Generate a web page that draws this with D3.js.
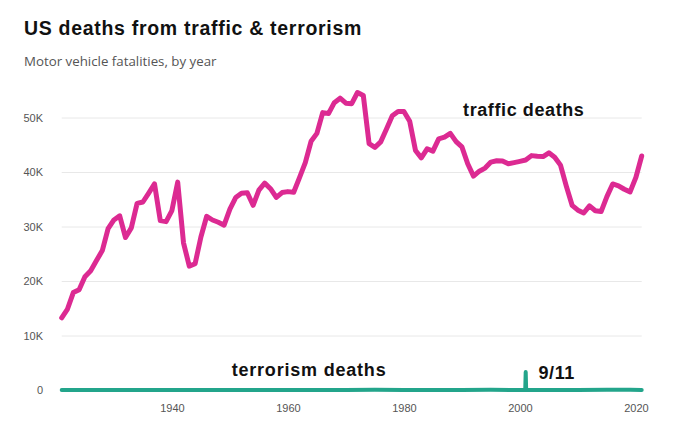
<!DOCTYPE html>
<html>
<head>
<meta charset="utf-8">
<script src="https://cdn.jsdelivr.net/npm/d3@7"></script>
<style>
  html, body { margin: 0; padding: 0; background: #fff; }
  svg { display: block; }
</style>
</head>
<body>
<div id="chart"></div>
<script>
// ---- data ----
const years = d3.range(1921, 2022);
const trafficDeaths = [
  13253, 14859, 17870, 18400, 20771, 21894, 23765, 25580, 29592,          // 1921-1929
  31204, 31963, 27979, 29746, 34240, 34494, 36126, 37819, 31083, 30895,   // 1930s
  32914, 38142, 27007, 22727, 23165, 28076, 31874, 31193, 30775, 30246,   // 1940s
  33186, 35309, 36088, 36190, 33890, 36688, 37965, 36932, 35331, 36223,   // 1950s
  36399, 36285, 38980, 41723, 45645, 47089, 50894, 50724, 52725, 53543,   // 1960s
  52627, 52542, 54589, 54052, 45196, 44525, 45523, 47878, 50331, 51093,   // 1970s
  51091, 49301, 43945, 42589, 44257, 43825, 46087, 46390, 47087, 45582,   // 1980s
  44599, 41508, 39250, 40150, 40716, 41817, 42065, 42013, 41501, 41717,   // 1990s
  41945, 42196, 43005, 42884, 42836, 43510, 42708, 41259, 37423, 33883,   // 2000s
  32999, 32479, 33782, 32893, 32744, 35484, 37806, 37473, 36835, 36355,   // 2010s
  39007, 42939                                                            // 2020-2021
];
// terrorism deaths: yearly, with the September 2001 attacks recorded at finer (monthly) resolution
const terrorismDates = [
  1921, 1930, 1940, 1950, 1960, 1970, 1975, 1980, 1985, 1990, 1995, 2000,
  2000.92, 2001, 2001.08,
  2002, 2005, 2010, 2015, 2016, 2019, 2021
];
const terrorismDeaths = [
  0, 0, 0, 0, 0, 15, 25, 20, 5, 4, 40, 1,
  0, 3300, 0,
  5, 0, 3, 40, 50, 45, 10
];
const yTicks = [0, 10000, 20000, 30000, 40000, 50000];
const xTicks = [1940, 1960, 1980, 2000, 2020];
const titleText = "US deaths from traffic & terrorism";
const subtitleText = "Motor vehicle fatalities, by year";
const seriesLabels = [
  { text: "traffic deaths", year: 1990.2, value: 50300, spacing: 0.6 },
  { text: "terrorism deaths", year: 1950.3, value: 2550, spacing: 0.8 },
  { text: "9/11", year: 2003.2, value: 2000, spacing: 0.6 }
];

// ---- layout ----
const W = 680, H = 438;
const svg = d3.select("#chart").append("svg")
  .attr("width", W).attr("height", H);

const x = d3.scaleLinear().domain([1921, 2021]).range([61.7, 641.7]);
const y = d3.scaleLinear().domain([0, 50000]).range([390, 117.5]);

// title & subtitle
svg.append("text")
  .attr("x", 24).attr("y", 35)
  .attr("font-family", "'Liberation Sans', Arial, sans-serif")
  .attr("font-weight", "bold")
  .attr("font-size", 19.5)
  .attr("letter-spacing", 0.7)
  .attr("fill", "#111")
  .text(titleText);

svg.append("text")
  .attr("x", 24).attr("y", 66)
  .attr("font-family", "'Open Sans', 'Noto Sans', sans-serif")
  .attr("font-size", 13.3)
  .attr("fill", "#555")
  .text(subtitleText);

// y axis (gridlines + labels)
const yAxis = d3.axisLeft(y)
  .tickValues(yTicks)
  .tickSize(-(x.range()[1] - x.range()[0]))
  .tickPadding(18.7)
  .tickFormat(d => d === 0 ? "0" : (d / 1000) + "K");

const gy = svg.append("g")
  .attr("transform", `translate(${x.range()[0]},0)`)
  .call(yAxis);
gy.select(".domain").remove();
gy.selectAll(".tick line").attr("stroke", "#e8e8e8").attr("stroke-width", 1);
gy.selectAll(".tick text")
  .attr("font-family", "'Liberation Sans', Arial, sans-serif")
  .attr("font-size", 11)
  .attr("fill", "#555");

// x axis labels
const xAxis = d3.axisBottom(x)
  .tickValues(xTicks)
  .tickSize(0)
  .tickPadding(14)
  .tickFormat(d3.format("d"));
const gx = svg.append("g")
  .attr("transform", `translate(0,${y(0)})`)
  .call(xAxis);
gx.select(".domain").remove();
gx.selectAll(".tick text")
  .attr("font-family", "'Liberation Sans', Arial, sans-serif")
  .attr("font-size", 11)
  .attr("fill", "#555");

// lines
const trafficLine = d3.line()
  .x((d, i) => x(years[i]))
  .y(d => y(d));
const terrorLine = d3.line()
  .x((d, i) => x(terrorismDates[i]))
  .y(d => y(d));

svg.append("path")
  .datum(terrorismDeaths)
  .attr("fill", "none")
  .attr("stroke", "#23a58b")
  .attr("stroke-width", 4)
  .attr("stroke-linejoin", "round")
  .attr("stroke-linecap", "round")
  .attr("d", terrorLine);

svg.append("path")
  .datum(trafficDeaths)
  .attr("fill", "none")
  .attr("stroke", "#dc2a92")
  .attr("stroke-width", 5)
  .attr("stroke-linejoin", "round")
  .attr("stroke-linecap", "round")
  .attr("d", trafficLine);

// series labels
svg.selectAll("text.series-label")
  .data(seriesLabels)
  .enter().append("text")
  .attr("class", "series-label")
  .attr("x", d => x(d.year))
  .attr("y", d => y(d.value))
  .attr("font-family", "'Liberation Sans', Arial, sans-serif")
  .attr("font-weight", "bold")
  .attr("font-size", 18)
  .attr("letter-spacing", d => d.spacing)
  .attr("fill", "#111")
  .text(d => d.text);
</script>
</body>
</html>
